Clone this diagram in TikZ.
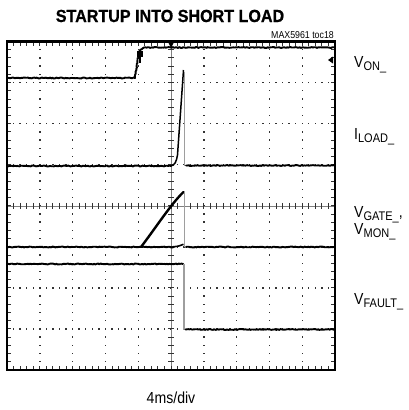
\documentclass[tikz,border=0pt]{standalone}
\usepackage{fontspec}
\setmainfont{Liberation Sans}
\newfontfamily\labfont[FakeStretch=0.88]{Liberation Sans}
\newfontfamily\ttlfont[FakeStretch=0.92,BoldFeatures={FakeBold=0.8}]{Liberation Sans}
\usetikzlibrary{decorations.pathmorphing}
\definecolor{dotc}{gray}{0.2}
\definecolor{cutc}{gray}{0.62}
\newcommand\sublbl[2]{#1\raisebox{-3.2pt}{\fontsize{12.5}{13}\selectfont #2}}
\tikzset{
  lbl/.style={inner sep=0pt, anchor=base west, font=\labfont\fontsize{16}{18}\selectfont},
  trace/.style={line width=1.9pt, decorate, decoration={random steps,segment length=1.3pt,amplitude=0.45pt}, line join=round, line cap=round},
  cut/.style={cutc, line width=1.2pt},
  tickl/.style={line width=0.9pt, dotc},
}
\begin{document}
\begin{tikzpicture}[x=1pt,y=-1pt]
\pgfmathsetseed{7}
\fill[white] (0,0) rectangle (408,410);
\useasboundingbox (0,0) rectangle (408,410);
% dotted grid
\foreach \k in {1,2,3,4,6,7,8,9} {
  \foreach \j in {1,...,39} {
    \fill[dotc] ({7+32.8*\k-0.7},{41.5+8.2125*\j-0.7}) rectangle ++(1.4,1.4);
  }
}
\foreach \k in {1,2,3,5,6,7} {
  \foreach \j in {1,...,49} {
    \fill[dotc] ({7+6.56*\j-0.7},{41.5+41.0625*\k-0.7}) rectangle ++(1.4,1.4);
  }
}
% centre axes
\draw[line width=0.4pt, gray] (171,41.5) -- (171,370);
\draw[line width=0.4pt, gray] (7,205.75) -- (335,205.75);
\foreach \j in {1,...,39} {
  \draw[tickl] (168,{41.5+8.2125*\j}) -- (174,{41.5+8.2125*\j});
}
\foreach \j in {1,...,49} {
  \draw[tickl] ({7+6.56*\j},202.75) -- ({7+6.56*\j},208.75);
}
% edge ticks
\foreach \j in {1,...,49} {
  \draw[tickl] ({7+6.56*\j},41.5) -- ({7+6.56*\j},45.5);
  \draw[tickl] ({7+6.56*\j},370) -- ({7+6.56*\j},366);
}
\foreach \j in {1,...,39} {
  \draw[tickl] (7,{41.5+8.2125*\j}) -- (11,{41.5+8.2125*\j});
  \draw[tickl] (335,{41.5+8.2125*\j}) -- (331,{41.5+8.2125*\j});
}
% V_ON trace
\draw[trace] (7,78) -- (135,78) -- (137.5,60) -- (139.5,51) -- (144,47.5) -- (335,47.5);
% I_LOAD trace
\draw[trace] (7,166) -- (171,166);
\draw[line width=1.5pt, line join=round] (170,166) .. controls (175,166) and (176.5,161) .. (177.5,155) -- (183.5,70);
\draw[cut] (184.5,72) -- (184.5,166);
\draw[trace] (186,165.5) -- (335,165.5);
% V_GATE and V_MON traces
\draw[trace] (7,247) -- (174,247);
\draw[line width=2.4pt, line cap=round] (141,247) .. controls (157,226) and (171,204) .. (183.5,192);
\draw[line width=1.6pt] (173,246.8) .. controls (178,246.5) and (181,245.5) .. (183.5,244.3);
\draw[cut] (184.5,192) -- (184.5,247);
\draw[trace] (186,247) -- (335,247);
% V_FAULT trace
\draw[trace] (7,264) -- (183.2,264);
\draw[cut] (184,264) -- (184,329.5);
\draw[trace] (185.5,329.5) -- (335,329.5);
% markers
\fill (168,42) -- (174,42) -- (171,48) -- cycle;
\fill (136.5,51) rectangle (142.5,56.5);
\fill (138.8,56) rectangle (140.6,63);
\fill (333,56.5) -- (328,60) -- (333,63.5) -- cycle;
% frame
\draw[line width=2.8pt] (7,41.5) rectangle (335,370);
% texts
\node[inner sep=0pt, anchor=base, font=\ttlfont\bfseries\fontsize{17.5}{20}\selectfont] (title) at (170,22) {STARTUP INTO SHORT LOAD};
\node[inner sep=0pt, anchor=base east, font=\labfont\fontsize{10}{11}\selectfont] (tag) at (334,38.3) {MAX5961 toc18};
\node[lbl] (von) at (354,67) {\sublbl{V}{ON\_}};
\node[lbl] (iload) at (354,139) {\sublbl{I}{LOAD\_}};
\node[lbl] (vgate) at (354,217) {\sublbl{V}{GATE\_},};
\node[lbl] (vmon) at (354,234) {\sublbl{V}{MON\_}};
\node[lbl] (vfault) at (354,304) {\sublbl{V}{FAULT\_}};
\node[inner sep=0pt, anchor=base, font=\labfont\fontsize{16}{18}\selectfont] (tdiv) at (171,403) {4ms/div};
\end{tikzpicture}
\end{document}
